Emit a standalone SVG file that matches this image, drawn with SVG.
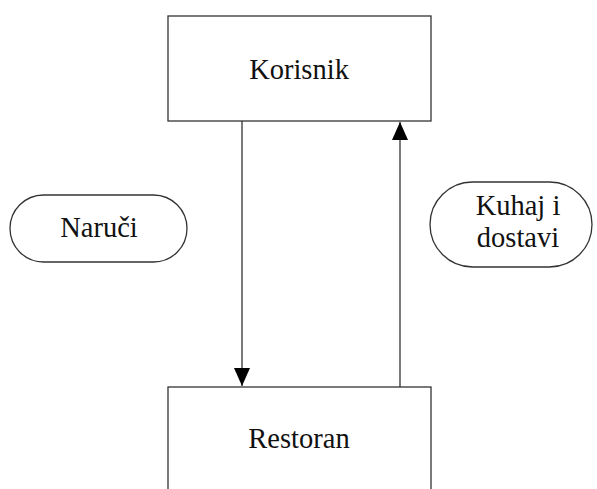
<svg xmlns="http://www.w3.org/2000/svg" width="597" height="489" viewBox="0 0 597 489">
<style>
.box{fill:#fff;stroke:#333;stroke-width:1.3}
.t{font-family:"Liberation Serif","Times New Roman",serif;font-size:28.5px;fill:#111;text-anchor:middle}
.c{stroke:#333;stroke-width:1.3;fill:none}
</style>
<defs>
<marker id="ah" viewBox="0 0 18 16" refX="18" refY="8" markerWidth="18" markerHeight="16" markerUnits="userSpaceOnUse" orient="auto">
<path d="M0,0 L18,8 L0,16 Z" fill="#000"/>
</marker>
</defs>
<rect width="597" height="489" fill="#fff"/>
<g id="korisnik">
<rect class="box" x="168" y="16" width="263" height="105"/>
<text class="t" x="299" y="79">Korisnik</text>
</g>
<g id="restoran">
<rect class="box" x="168" y="387" width="263" height="120"/>
<text class="t" x="299" y="448">Restoran</text>
</g>
<g id="naruci">
<rect class="box" x="10" y="195" width="177" height="67" rx="33.5"/>
<text class="t" x="99" y="237">Naruči</text>
</g>
<g id="kuhaj">
<rect class="box" x="430" y="182" width="162" height="85" rx="42.5"/>
<text class="t" x="518" y="215">Kuhaj i</text>
<text class="t" x="518" y="247">dostavi</text>
</g>
<g id="connectors">
<line class="c" x1="242" y1="121" x2="242" y2="386" marker-end="url(#ah)"/>
<line class="c" x1="400" y1="387" x2="400" y2="122" marker-end="url(#ah)"/>
</g>
</svg>
